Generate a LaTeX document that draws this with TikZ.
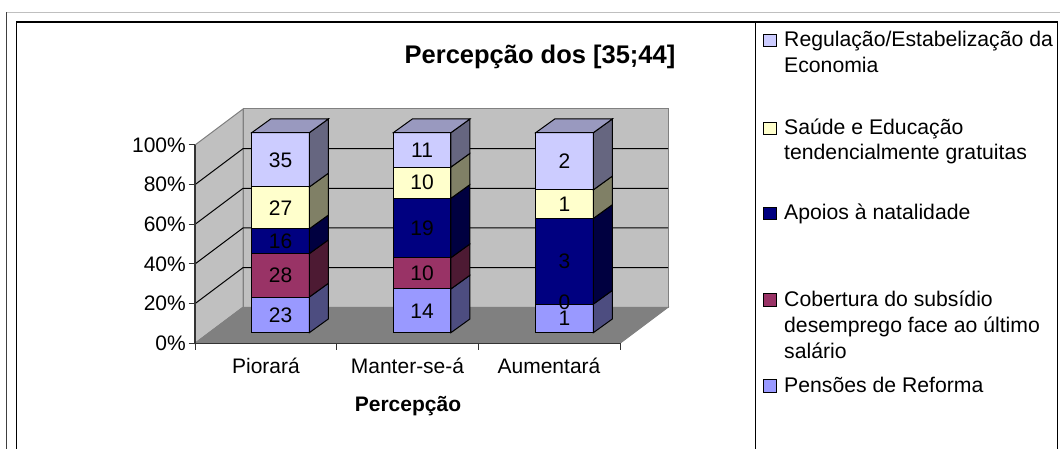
\documentclass[tikz,border=0pt]{standalone}
\usepackage{fontspec}
\setmainfont{Liberation Sans}
\definecolor{penF}{HTML}{9999FF}\definecolor{penS}{HTML}{4D4D80}
\definecolor{cobF}{HTML}{993366}\definecolor{cobS}{HTML}{4D1A33}
\definecolor{apoF}{HTML}{000080}\definecolor{apoS}{HTML}{000040}
\definecolor{sauF}{HTML}{FFFFCC}\definecolor{sauS}{HTML}{808066}
\definecolor{regF}{HTML}{CCCCFF}\definecolor{regS}{HTML}{666680}\definecolor{regT}{HTML}{9999BF}
\definecolor{wallc}{HTML}{C0C0C0}\definecolor{floorc}{HTML}{808080}\definecolor{edgec}{HTML}{808080}
\newcommand{\barseg}[5]{%
  \filldraw[barline,fill=#4] (#1,#2) rectangle (#1+57.6,#3);
  \filldraw[barline,fill=#5] (#1+57.6,#2) -- (#1+76.6,#2-13.7) -- (#1+76.6,#3-13.7) -- (#1+57.6,#3) -- cycle;}
\newcommand{\bartop}[1]{%
  \filldraw[barline,fill=regT] (#1,132.7) -- (#1+19,119) -- (#1+76.6,119) -- (#1+57.6,132.7) -- cycle;}
\begin{document}
\begin{tikzpicture}[x=1pt,y=-1pt,
  barline/.style={draw=black,line width=1pt,line join=miter},
  lbl/.style={font=\fontsize{21}{25}\selectfont,inner sep=0pt},
  leg/.style={font=\fontsize{21.2}{25}\selectfont,inner sep=0pt,anchor=base west},
  legsq/.style={draw=black,line width=1pt}]
\useasboundingbox (0,0) rectangle (1060,449);
\fill[white] (0,0) rectangle (1060,449);
% frames
\draw[black!75,line width=1pt] (6.7,12.3) -- (6.7,449);
\draw[black!25,line width=1pt] (6.7,12.3) -- (1060,12.3);
\draw[black,line width=1.3pt] (16.7,449) -- (16.7,22) -- (1057.7,22) -- (1057.7,449);
\draw[black,line width=1pt] (755,22) -- (755,449);
% walls and floor
\filldraw[fill=wallc,draw=edgec,line width=1pt] (195,343.3) -- (195,145) -- (243,109) -- (243,307.3) -- cycle;
\filldraw[fill=wallc,draw=edgec,line width=1pt] (243,307.3) -- (243,109) -- (668,109) -- (668,307.3) -- cycle;
\filldraw[fill=floorc,draw=edgec,line width=1pt] (195,343.3) -- (243,307.3) -- (668,307.3) -- (620,343.3) -- cycle;
\foreach \k in {1,2,3,4}{
  \draw[black,line width=1pt] (195,343.3-\k*39.66) -- (243,307.3-\k*39.66) -- (668,307.3-\k*39.66);
}
% axes
\draw[black!80,line width=1.2pt] (195,145) -- (195,343.3) -- (620,343.3);
\foreach \k in {0,...,5}{\draw[black!80,line width=1pt] (188.5,343.3-\k*39.66) -- (195,343.3-\k*39.66);}
\foreach \xx in {195,336.7,478.3,620}{\draw[black!80,line width=1pt] (\xx,343.3) -- (\xx,349.5);}
% bar 1
\barseg{251.7}{297.04}{332.7}{penF}{penS}
\barseg{251.7}{253.63}{297.04}{cobF}{cobS}
\barseg{251.7}{228.82}{253.63}{apoF}{apoS}
\barseg{251.7}{186.96}{228.82}{sauF}{sauS}
\barseg{251.7}{132.7}{186.96}{regF}{regS}
\bartop{251.7}
% bar 2
\barseg{393.3}{288.95}{332.7}{penF}{penS}
\barseg{393.3}{257.7}{288.95}{cobF}{cobS}
\barseg{393.3}{198.33}{257.7}{apoF}{apoS}
\barseg{393.3}{167.08}{198.33}{sauF}{sauS}
\barseg{393.3}{132.7}{167.08}{regF}{regS}
\bartop{393.3}
% bar 3
\barseg{535.7}{304.13}{332.7}{penF}{penS}
\barseg{535.7}{218.42}{304.13}{apoF}{apoS}
\barseg{535.7}{189.85}{218.42}{sauF}{sauS}
\barseg{535.7}{132.7}{189.85}{regF}{regS}
\bartop{535.7}
% data labels
\node[lbl] (b1a) at (280.5,314.9) {23};
\node[lbl] (b1b) at (280.5,275.3) {28};
\node[lbl] (b1c) at (280.5,241.2) {16};
\node[lbl] (b1d) at (280.5,207.9) {27};
\node[lbl] (b1e) at (280.5,159.8) {35};
\node[lbl] (b2a) at (422.1,310.8) {14};
\node[lbl] (b2b) at (422.1,273.3) {10};
\node[lbl] (b2c) at (422.1,228.0) {19};
\node[lbl] (b2d) at (422.1,182.7) {10};
\node[lbl] (b2e) at (422.1,149.9) {11};
\node[lbl] (b3a) at (564.5,318.4) {1};
\node[lbl] (b3b) at (564.5,302.5) {0};
\node[lbl] (b3c) at (564.5,261.3) {3};
\node[lbl] (b3d) at (564.5,204.1) {1};
\node[lbl] (b3e) at (564.5,161.3) {2};
% y labels
\node[lbl,anchor=east] (y0) at (186,343.3) {0\%};
\node[lbl,anchor=east] (y20) at (186,303.6) {20\%};
\node[lbl,anchor=east] (y40) at (186,264.0) {40\%};
\node[lbl,anchor=east] (y60) at (186,224.3) {60\%};
\node[lbl,anchor=east] (y80) at (186,184.7) {80\%};
\node[lbl,anchor=east] (y100) at (186,145) {100\%};
% x labels
\node[lbl,anchor=base] (c1) at (266,373.3) {Piorará};
\node[lbl,anchor=base] (c2) at (407.5,373.3) {Manter-se-á};
\node[lbl,anchor=base] (c3) at (549,373.3) {Aumentará};
\node[lbl,anchor=base,font=\fontsize{21}{25}\selectfont\bfseries] (xt) at (408,411) {Percepção};
% title
\node[inner sep=0pt,anchor=base,font=\fontsize{25.5}{30}\selectfont\bfseries] (title) at (540,63.3) {Percepção dos [35;44]};
% legend
\filldraw[legsq,fill=regF] (763.3,34.3) rectangle (776,47);
\node[leg] (l1a) at (784,47) {Regulação/Estabelização da};
\node[leg] (l1b) at (784,73) {Economia};
\filldraw[legsq,fill=sauF] (763.3,122.3) rectangle (776,135);
\node[leg] (l2a) at (784,135) {Saúde e Educação};
\node[leg] (l2b) at (784,160) {tendencialmente gratuitas};
\filldraw[legsq,fill=apoF] (763.3,207.3) rectangle (776,220);
\node[leg] (l3a) at (784,220) {Apoios à natalidade};
\filldraw[legsq,fill=cobF] (763.3,293.3) rectangle (776,306);
\node[leg] (l4a) at (784,306) {Cobertura do subsídio};
\node[leg] (l4b) at (784,332) {desemprego face ao último};
\node[leg] (l4c) at (784,358) {salário};
\filldraw[legsq,fill=penF] (763.3,379.3) rectangle (776,392);
\node[leg] (l5a) at (784,392) {Pensões de Reforma};
\end{tikzpicture}
\end{document}
